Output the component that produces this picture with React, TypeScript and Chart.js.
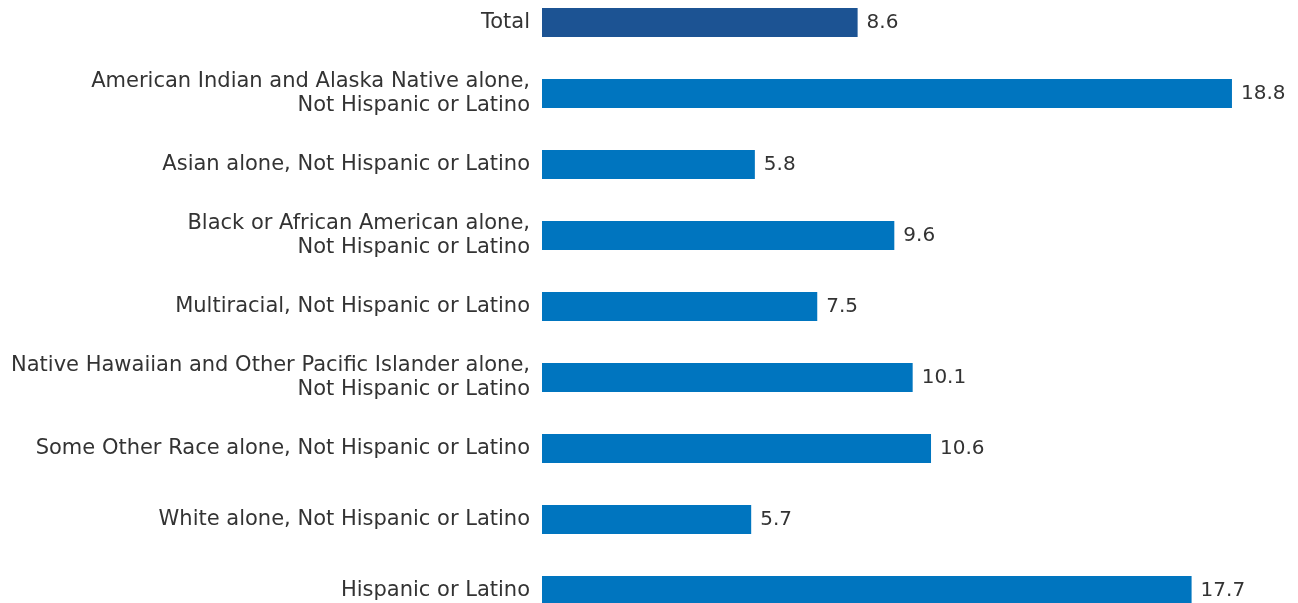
import React, { useEffect, useRef } from "react";
import { Chart, registerables } from "chart.js";

Chart.register(...registerables);

const categories: (string | string[])[] = [
  "Total",
  ["American Indian and Alaska Native alone,", "Not Hispanic or Latino"],
  "Asian alone, Not Hispanic or Latino",
  ["Black or African American alone,", "Not Hispanic or Latino"],
  "Multiracial, Not Hispanic or Latino",
  ["Native Hawaiian and Other Pacific Islander alone,", "Not Hispanic or Latino"],
  "Some Other Race alone, Not Hispanic or Latino",
  "White alone, Not Hispanic or Latino",
  "Hispanic or Latino",
];

const values: number[] = [8.6, 18.8, 5.8, 9.6, 7.5, 10.1, 10.6, 5.7, 17.7];

const barColors: string[] = [
  "#1c5393",
  "#0075bf",
  "#0075bf",
  "#0075bf",
  "#0075bf",
  "#0075bf",
  "#0075bf",
  "#0075bf",
  "#0075bf",
];

const FONT = "'DejaVu Sans', sans-serif";
const TEXT_COLOR = "#333333";

const valueLabels = {
  id: "valueLabels",
  afterDatasetsDraw(chart: any) {
    const ctx = chart.ctx;
    const meta = chart.getDatasetMeta(0);
    ctx.save();
    ctx.font = `20px ${FONT}`;
    ctx.fillStyle = TEXT_COLOR;
    ctx.textAlign = "left";
    ctx.textBaseline = "middle";
    meta.data.forEach((el: any, i: number) => {
      ctx.fillText(values[i].toFixed(1), el.x + 9, el.y);
    });
    ctx.restore();
  },
};

export default function App() {
  const ref = useRef<HTMLCanvasElement | null>(null);
  useEffect(() => {
    document.body.style.margin = "0";
    const chart = new Chart(ref.current!, {
      type: "bar",
      data: {
        labels: categories as any,
        datasets: [
          {
            data: values,
            backgroundColor: barColors,
            barPercentage: 0.41,
            categoryPercentage: 1,
          },
        ],
      },
      options: {
        indexAxis: "y",
        animation: false,
        responsive: false,
        maintainAspectRatio: false,
        layout: { padding: { left: 0, right: 22, top: 0, bottom: 0 } },
        plugins: {
          legend: { display: false },
          tooltip: { enabled: false },
        },
        scales: {
          x: {
            display: false,
            min: 0,
            max: 20,
          },
          y: {
            afterFit: (scale: any) => {
              scale.width = 542;
              scale.paddingTop = 0;
              scale.paddingBottom = 0;
            },
            grid: { display: false, drawTicks: false },
            border: { display: false },
            ticks: {
              padding: 12,
              color: TEXT_COLOR,
              font: { family: FONT, size: 21, lineHeight: 1.16 },
            },
          },
        },
      },
      plugins: [valueLabels],
    });
    return () => chart.destroy();
  }, []);
  return (
    <div style={{ position: "absolute", left: 0, top: -13, width: 1298, height: 639 }}>
      <canvas ref={ref} width={1298} height={639} style={{ display: "block" }} />
    </div>
  );
}
